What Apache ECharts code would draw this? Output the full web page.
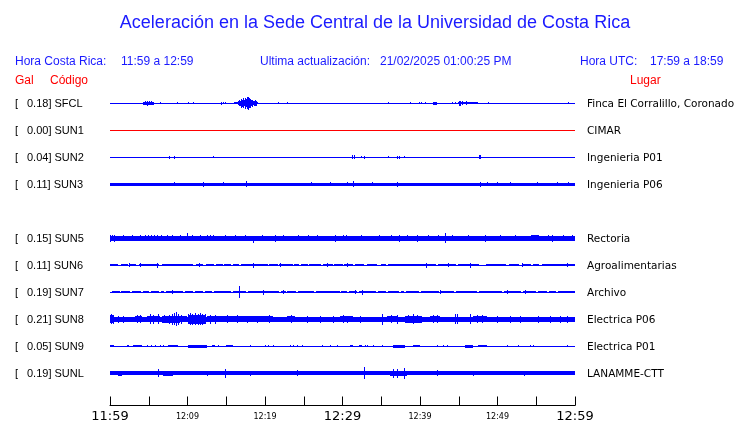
<!DOCTYPE html>
<html><head><meta charset="utf-8">
<script src="https://cdn.jsdelivr.net/npm/echarts@6/dist/echarts.min.js"></script>
<style>html,body{margin:0;padding:0;background:#fff}#c{width:740px;height:423px}</style>
</head><body><div id="c"></div>
<script>
// ---------------- DATA ----------------
// time in minutes after 11:59 (hora Costa Rica); amplitudes are trace half-heights (relative units)
const stationCodes = ['SFCL','SUN1','SUN2','SUN3','SUN5','SUN6','SUN7','SUN8','SUN9','SUNL'];
const galValues    = ['0.18','0.00','0.04','0.11','0.15','0.11','0.19','0.21','0.05','0.19'];
const places = ['Finca El Corralillo, Coronado','CIMAR','Ingenieria P01','Ingenieria P06',
  'Rectoria','Agroalimentarias','Archivo','Electrica P06','Electrica P01','LANAMME-CTT'];
const axisTickLabels = ['11:59','12:09','12:19','12:29','12:39','12:49','12:59'];

// bands: [tStart, tEnd, amplitude]; spikes: [t, amplitude] or [t, up, down]
const bandsSFCL = [[0,60,0.5],[4.26,5.68,1.5],[16.0,16.5,1.2],[16.5,19.0,2.0],[41.7,42.2,1.5],[44.9,47.5,1.3]];
const spikesSFCL = [[4.52,1.8],[4.77,2.5],[5.03,2.3],[5.29,2.0],[6.45,1.3],[8.65,1.3],[10.06,1.2],[10.71,1.2],
  [14.32,1.5],[14.58,1.3],[14.84,1.0],[16.65,3],[16.77,2.5],[16.90,4.5],[17.03,3.5],[17.16,5],[17.29,3],
  [17.42,5.5],[17.55,4],[17.68,6],[17.81,6.5],[17.94,5],[18.06,4.5],[18.19,3],[18.32,3.5],[18.58,2.5],
  [18.71,3],[18.84,2.5],[18.97,1.2],[21.68,1.0,0.5],[22.84,1.3],[30.19,0.5,1.0],[35.87,1.3],[38.71,0.8],
  [39.87,1.0],[40.13,1.0],[40.65,1.0],[44.13,1.0],[44.52,1.2],[45.03,2.5],[45.16,2.5],[45.42,2.0],
  [45.94,1.8],[48.77,0.8],[59.10,1.3]];

const bandsSUN1 = [[0,60,0.5]];
const spikesSUN1 = [];

const bandsSUN2 = [[0,60,0.5]];
const spikesSUN2 = [[7.61,1.5],[8.26,1.5],[13.29,1.0,0.5],[17.55,0.5,1.0],[31.23,1.7],[31.48,1.7],[32.39,1.0],
  [32.77,1.5],[35.87,0.8],[37.03,1.5],[37.29,1.5],[37.94,1.0],[46.32,0.5,0.8],[47.61,1.7],[47.74,1.7]];

const bandsSUN3 = [[0,60,1.5]];
const spikesSUN3 = [[7.61,1.5,2.3],[8.26,2.3,1.5],[12.0,2.5],[14.58,1.8],[17.55,2.7],[25.94,1.8],[28.39,1.8],
  [30.58,1.8],[31.35,3.0],[33.81,1.8],[37.03,2.5],[47.74,2.5],[48.65,2.2],[49.94,2.2],[51.61,1.8],
  [55.10,1.8],[57.68,1.8],[59.10,1.8]];

const bandsSUN5 = [[0,60,2.5],[54.3,55.3,2.8]];
const spikesSUN5 = [[0.0,3.5],[0.26,3.3],[0.52,3.5],[1.68,3.3],[2.84,3.0],[3.87,3.0],[4.52,3.3],[4.9,3.0],
  [5.29,3.3],[5.68,3.0],[6.06,3.3],[6.58,3.3],[7.35,3.0],[8.0,3.0],[9.03,3.0],[9.94,4.7,2.5],
  [10.58,3.3],[11.61,3.0],[12.52,3.3],[12.9,3.0],[13.29,3.3],[14.84,3.3],[16.13,3.0],[17.42,3.3],[18.45,2.5,5.3],
  [19.61,3.3],[21.29,3.5],[22.32,3.3],[24.26,3.3],[25.55,3.0],[26.71,3.0],[29.03,3.5],[30.06,3.0],[30.45,3.3],
  [32.39,3.3],[34.71,3.3],[36.26,3.0],[37.29,3.5],[38.32,3.0],[39.61,3.5],[41.03,3.0],[42.32,3.3],[43.23,5.0],
  [44.13,3.0],[46.19,3.3],[48.39,3.5],[50.32,3.3],[52.26,3.3],[54.45,3.3],[55.1,3.3],[56.52,3.3],[57.03,3.5],
  [58.45,3.3],[59.61,3.0]];

const bandsSUN6 = [[0,60,0.5],[0,1.03,1.2],[1.42,2.32,1.2],[2.45,3.35,1.2],[3.74,6.32,1.2],[6.71,10.71,1.2],
  [11.10,12.0,1.2],[12.39,13.42,1.2],[13.68,14.58,1.2],[14.71,15.61,1.2],[15.87,16.65,1.2],[16.90,20.39,1.2],
  [20.52,21.68,1.2],[21.81,23.61,1.2],[23.74,24.39,1.2],[24.65,25.55,1.2],[25.68,27.23,1.2],[27.48,28.77,1.2],
  [28.90,30.06,1.2],[30.19,31.35,1.2],[31.61,32.77,1.2],[33.16,34.45,1.2],[34.97,35.61,1.2],[35.87,42.06,1.2],
  [42.32,44.65,1.2],[44.90,47.61,1.2],[48.52,51.10,1.2],[51.48,52.77,1.2],[53.29,54.32,1.2],[54.58,55.35,1.2],
  [55.74,60,1.2]];
const spikesSUN6 = [[2.45,2.0],[3.87,2.0],[6.06,2.5],[11.48,2.0],[18.45,2.5],[21.94,1.8],[28.0,2.0],[30.58,1.8],
  [40.77,2.5],[43.61,2.0],[46.45,2.5],[53.16,1.8],[58.97,1.8]];

const bandsSUN7 = [[0,60,0.5],[0.26,1.29,1.3],[1.42,2.58,1.3],[2.84,4.0,1.3],[4.26,5.03,1.3],[5.29,6.32,1.3],
  [6.58,6.97,1.3],[7.23,9.42,1.3],[9.68,10.71,1.3],[10.97,12.0,1.3],[12.26,13.16,1.3],[13.42,15.61,1.3],
  [15.87,17.55,1.3],[17.81,21.81,1.3],[22.06,22.71,1.3],[22.84,24.0,1.3],[24.26,26.32,1.3],[26.58,29.68,1.3],
  [29.81,30.58,1.3],[30.84,31.87,1.3],[32.13,34.32,1.3],[34.58,35.61,1.3],[35.87,37.29,1.3],[37.55,37.94,1.3],
  [38.19,39.87,1.3],[40.13,42.45,1.3],[42.71,44.39,1.3],[44.65,47.35,1.3],[47.61,50.58,1.3],[50.84,53.03,1.3],
  [53.29,54.97,1.3],[55.23,56.39,1.3],[56.65,57.55,1.3],[57.81,60,1.3]];
const spikesSUN7 = [[8.0,1.7],[16.65,5.7,6.3],[19.74,2.5],[22.32,2.0],[31.61,1.7],[32.52,2.5],[42.58,2.0],
  [51.23,2.0],[53.55,2.0]];

const bandsSUN8 = [[0,60,2.5],[0,0.52,4],[3.23,4.13,3.3],[4.77,6.45,3.2],[6.71,9.03,3.5],
  [9.03,9.94,3],[10.0,12.4,4.5],[12.52,20.26,2.9],[20.26,21.03,3.3],[22.84,23.87,3.3],[29.68,31.35,3.2],
  [35.74,37.16,3.2],[38.06,40.26,3.5],[41.29,42.58,3.3],[46.84,48.65,3.2]];
const spikesSUN8 = [[0.13,5],[0.39,4.5],[1.03,3.5],[1.68,3.5],[3.5,4],[3.9,4],[5.16,5],[5.55,4.5],[6.19,5],
  [7.0,4.2],[7.6,4.5],[8.0,5.5],[8.26,6],[8.52,7],[8.77,5.5],[9.2,4.5],
  [10.06,5.2],[10.32,6],[10.6,5.5],[10.97,6],[11.3,5.5],[11.61,6],[11.9,5.5],[12.2,5],[12.90,4.5],[13.55,4.5],
  [15.10,3.8],[16.39,3.8],[17.68,3.5],[18.97,3.5],[20.5,4],[23.3,4],
  [25.42,3.5],[27.10,3.5],[28.77,3.5],[30.0,3.8],[30.58,3.5],[32.3,3.5],[35.10,5.5],[36.2,3.8],[37.03,4.5],
  [38.5,4],[39.10,5],[39.6,4.2],[41.7,4],[42.2,4],[44.52,5],[44.77,5],
  [46.45,5],[47.3,4],[48.0,3.8],[49.94,3.5],[51.61,3.5],[52.90,3.5],[55.23,3.5],[56.77,3.5],[58.06,3.5],[58.97,3.5]];

const bandsSUN9 = [[0,60,0.5],[0,0.52,1.3],[2.19,2.45,1.3],[2.97,4.13,1.3],[7.48,8.77,1.3],[10.06,12.52,1.5],
  [13.16,13.55,1.3],[14.97,15.87,1.3],[30.97,31.35,1.3],[32.13,32.52,1.3],[36.52,38.06,1.5],[39.10,40.0,1.3],
  [45.81,46.84,1.5],[47.48,48.65,1.3]];
const spikesSUN9 = [[4.77,1.3],[5.29,1.3],[5.81,1.3],[6.45,1.3],[6.84,1.3],[13.94,1.3],[18.06,1.3],[20.0,1.3],
  [20.39,1.3],[21.03,1.3],[23.23,1.3],[23.61,1.3],[24.13,1.3],[24.77,1.3],[27.35,1.3],[28.39,1.3],[29.29,1.3],
  [32.90,1.3],[33.16,1.3],[33.94,1.3],[35.10,1.3],[42.19,1.3],[42.97,1.3],[43.48,1.3],[51.23,1.3],[52.65,1.3],
  [54.19,1.3],[54.58,1.3],[58.97,1.3]];

const bandsSUNL = [[0,60,1.7],[1.03,1.55,2.5],[4.90,5.81,2.3],[6.84,8.13,2.5],[29.68,31.61,2.3],[36.13,38.32,2.5]];
const spikesSUNL = [[3.23,2.3],[6.19,4],[9.68,2.3],[10.32,2.3],[12.52,2.5],[14.84,4.5],[18.06,2.5],[20.65,2.3],
  [22.58,2.3],[24.13,3],[27.10,2.3],[32.77,6],[36.52,4.5],[37.03,4.5],[37.94,5.5],[42.19,3],[44.52,2.3],
  [46.84,2.5],[48.65,2.3],[50.32,2.3],[53.42,2.5],[55.87,2.3],[59.10,2]];

const traceBands  = [bandsSFCL,bandsSUN1,bandsSUN2,bandsSUN3,bandsSUN5,bandsSUN6,bandsSUN7,bandsSUN8,bandsSUN9,bandsSUNL];
const traceSpikes = [spikesSFCL,spikesSUN1,spikesSUN2,spikesSUN3,spikesSUN5,spikesSUN6,spikesSUN7,spikesSUN8,spikesSUN9,spikesSUNL];

// ---------------- LAYOUT ----------------
const rowSlot = [0,1,2,3,5,6,7,8,9,10];   // SUN4 slot (4) is empty
const firstRowY = 103, rowH = 27, plotL = 110, plotR = 575;
const BLUE = '#0000ff', RED = '#ff0000';
const traceColor = i => (stationCodes[i] === 'SUN1' ? RED : BLUE);
const TXT_BLUE = '#1a1aff';

function toItems(bands, spikes) {
  const out = [];
  bands.forEach(b => out.push([b[0], b[1], b[2], b[2]]));
  spikes.forEach(s => out.push([s[0], s[0], s[1], s.length > 2 ? s[2] : s[1]]));
  return out;
}

const grids = [], xAxes = [], yAxes = [], series = [];
stationCodes.forEach((code, i) => {
  const cy = firstRowY + rowH * rowSlot[i];
  grids.push({left: plotL, width: plotR - plotL, top: cy - rowH / 2, height: rowH});
  xAxes.push({type: 'value', gridIndex: i, min: 0, max: 60, show: false});
  yAxes.push({type: 'value', gridIndex: i, min: -rowH / 2, max: rowH / 2, show: false});
  const col = traceColor(i);
  series.push({
    type: 'custom', name: code, xAxisIndex: i, yAxisIndex: i, clip: false,
    data: toItems(traceBands[i], traceSpikes[i]),
    encode: {x: [0, 1], y: [2, 3]},
    renderItem: function (params, api) {
      const t0 = api.value(0), t1 = api.value(1), up = api.value(2), dn = api.value(3);
      const p0 = api.coord([t0, up]), p1 = api.coord([t1, -dn]);
      let x0 = Math.round(p0[0]), x1 = Math.round(p1[0]);
      if (x1 - x0 < 1) x1 = x0 + 1;
      let y0 = Math.round(p0[1]), y1 = Math.round(p1[1]);
      if (y1 - y0 < 1) y1 = y0 + 1;
      return {type: 'rect', shape: {x: x0, y: y0, width: x1 - x0, height: y1 - y0}, style: {fill: col}};
    }
  });
});
// time axis grid
const axisIdx = stationCodes.length;
grids.push({left: plotL, width: plotR - plotL, top: 380, height: 29});
xAxes.push({
  type: 'value', gridIndex: axisIdx, min: 0, max: 60, interval: 5,
  axisLine: {show: true, lineStyle: {color: '#000', width: 1}},
  axisTick: {show: true, inside: true, length: 9, lineStyle: {color: '#000', width: 1}},
  splitLine: {show: false},
  axisLabel: {
    show: true, margin: 4, showMinLabel: true, showMaxLabel: true, hideOverlap: false,
    formatter: function (v) {
      if (v % 10 !== 0) return '';
      const lab = axisTickLabels[v / 10];
      return v % 30 === 0 ? '{big|' + lab + '}' : '{small|' + lab + '}';
    },
    rich: {
      big: {fontSize: 13, fontFamily: 'DejaVu Sans', color: '#000', lineHeight: 14},
      small: {fontSize: 8, fontFamily: 'DejaVu Sans', color: '#000', lineHeight: 14}
    }
  }
});
yAxes.push({type: 'value', gridIndex: axisIdx, show: false});

// texts
const graphics = [];
function txt(text, x, y, font, fill, align) {
  graphics.push({type: 'text', silent: true, style: {text: text, x: x, y: y, font: font, fill: fill,
    textAlign: align || 'left', textVerticalAlign: 'middle', verticalAlign: 'middle'}});
}
const F12 = '12px "Liberation Sans"';
txt('Aceleración en la Sede Central de la Universidad de Costa Rica', 375, 23, '18px "Liberation Sans"', TXT_BLUE, 'center');
txt('Hora Costa Rica:', 15, 62, F12, TXT_BLUE);
txt('11:59 a 12:59', 121, 62, F12, TXT_BLUE);
txt('Ultima actualización:', 260, 62, F12, TXT_BLUE);
txt('21/02/2025 01:00:25 PM', 380, 62, F12, TXT_BLUE);
txt('Hora UTC:', 580, 62, F12, TXT_BLUE);
txt('17:59 a 18:59', 650, 62, F12, TXT_BLUE);
txt('Gal', 15, 81, F12, RED);
txt('Código', 50, 81, F12, RED);
txt('Lugar', 630, 81, F12, RED);
stationCodes.forEach((code, i) => {
  const cy = firstRowY + rowH * rowSlot[i] + 1;
  txt('[', 15, cy, '11px "Liberation Sans"', '#000');
  txt(galValues[i] + '] ' + code, 27, cy, '11px "Liberation Sans"', '#000');
  txt(places[i], 587, cy, '10.5px "DejaVu Sans"', '#000');
});

const chart = echarts.init(document.getElementById('c'), null, {renderer: 'canvas'});
chart.setOption({
  animation: false,
  backgroundColor: '#fff',
  grid: grids, xAxis: xAxes, yAxis: yAxes, series: series,
  graphic: graphics
});
</script>
</body></html>
